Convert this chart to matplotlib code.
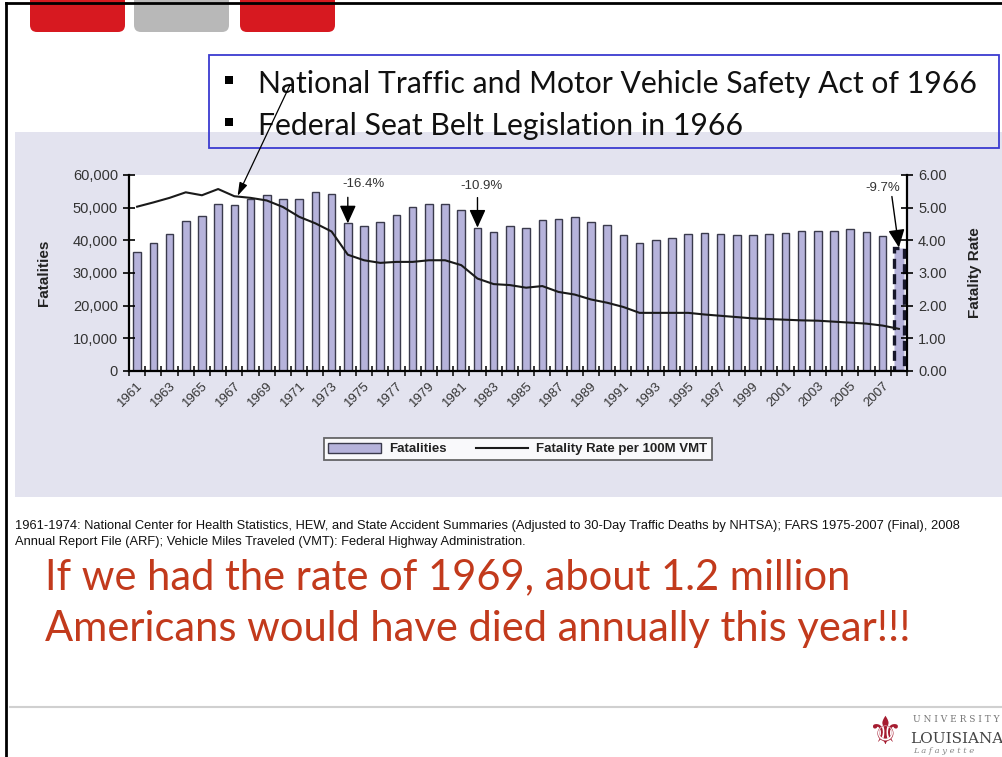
import matplotlib.pyplot as plt
import numpy as np
from matplotlib.patches import Rectangle, FancyBboxPatch
from matplotlib.ticker import FuncFormatter

# data
years = list(range(1961, 2009))
fatalities = [36300, 39200, 42000, 45800, 47300, 51000, 50800, 52700, 53800, 52800,
              52700, 54700, 54300, 45200, 44500, 45500, 47900, 50300, 51100, 51100,
              49300, 43900, 42600, 44300, 43800, 46100, 46400, 47100, 45600, 44600,
              41500, 39300, 40200, 40700, 41800, 42100, 42000, 41500, 41700, 41900,
              42200, 43000, 42900, 42800, 43500, 42700, 41300, 37800]
rate = [5.03, 5.16, 5.30, 5.47, 5.38, 5.57, 5.35, 5.30, 5.22, 5.02,
        4.72, 4.52, 4.27, 3.56, 3.39, 3.31, 3.34, 3.34, 3.39, 3.39,
        3.24, 2.83, 2.66, 2.63, 2.55, 2.60, 2.42, 2.34, 2.19, 2.09,
        1.96, 1.78, 1.78, 1.78, 1.78, 1.73, 1.69, 1.65, 1.61, 1.59,
        1.57, 1.55, 1.54, 1.51, 1.48, 1.45, 1.39, 1.29]
label_years = [str(y) for y in years[::2]]
note_years = [1974, 1982, 2008]
note_text = ['-16.4%', '-10.9%', '-9.7%']

title_lines = ['National Traffic and Motor Vehicle Safety Act of 1966',
               'Federal Seat Belt Legislation in 1966']
source_lines = ['1961-1974: National Center for Health Statistics, HEW, and State Accident Summaries '
                '(Adjusted to 30-Day Traffic Deaths by NHTSA); FARS 1975-2007 (Final), 2008',
                'Annual Report File (ARF); Vehicle Miles Traveled (VMT): Federal Highway Administration.']
message_lines = ['If we had the rate of 1969, about 1.2 million',
                 'Americans would have died annually this year!!!']

W, H = 1003, 757
narrow = ['Liberation Sans Narrow', 'Liberation Sans', 'DejaVu Sans']
plain = ['Liberation Sans', 'DejaVu Sans']

fig = plt.figure(figsize=(W / 100, H / 100), dpi=100)
renderer = fig.canvas.get_renderer()


def fit(t, width):
    # scale a text so it spans the given width in pixels
    w = t.get_window_extent(renderer).width
    t.set_fontsize(t.get_fontsize() * width / w)


# background layer in pixel coordinates
back = fig.add_axes([0, 0, 1, 1], zorder=-2)
back.set_xlim(0, W)
back.set_ylim(H, 0)
back.axis('off')
back.add_patch(Rectangle((15, 132), W - 15, 365, facecolor='#E3E3EF', edgecolor='none'))
for x0, c in [(30, '#D71920'), (134, '#B8B8B8'), (240, '#D71920')]:
    back.add_patch(FancyBboxPatch((x0, -20), 95, 52, boxstyle='round,pad=0,rounding_size=7',
                                  facecolor=c, edgecolor='none'))
back.plot([6, 6], [3, H], color='black', lw=2)
back.plot([6, W], [3, 3], color='black', lw=2)
back.plot([10, W], [707, 707], color='#D0D0D0', lw=1.5)

# chart
x = np.arange(len(years))
ax = fig.add_axes([129 / W, 1 - 371 / H, 778 / W, 196 / H])
ax.set_facecolor('white')
bars = ax.bar(x[:-1], fatalities[:-1], width=0.47, color='#B6B3DB', edgecolor='#3a3a4c', linewidth=1.0)
ax.bar(x[-1], fatalities[-1], width=0.62, color='#B6B3DB', edgecolor='#16162a',
       linewidth=2.4, linestyle=(0, (3, 1.6)))
ax.set_xlim(-0.5, len(years) - 0.5)
ax.set_ylim(0, 60000)
ax.set_yticks(range(0, 60001, 10000))
ax.yaxis.set_major_formatter(FuncFormatter(lambda v, p: f'{int(v):,}'))
ax.set_xticks(np.arange(-0.5, len(years), 1))
ax.set_xticklabels([])
ax.set_xticks(x[::2], minor=True)
ax.set_xticklabels(label_years, minor=True, rotation=45, ha='right', rotation_mode='anchor',
                   family=plain, fontsize=9.5, color='#333333')
ax.tick_params(axis='x', which='major', direction='inout', length=7, width=1.1)
ax.tick_params(axis='x', which='minor', length=0, pad=6)
ax.tick_params(axis='y', direction='inout', length=9, width=1.2, labelsize=10.5, labelcolor='#333333')
for lab in ax.get_yticklabels():
    lab.set_family(plain)
for s in ['top', 'right']:
    ax.spines[s].set_visible(False)
for s in ['left', 'bottom']:
    ax.spines[s].set_linewidth(1.6)
ax.set_ylabel('Fatalities', family=narrow, weight='bold', fontsize=11, color='#222222')
ax.yaxis.set_label_coords(-0.1, 0.5)

ax2 = ax.twinx()
line, = ax2.plot(x, rate, color='#1a1a1a', lw=1.5)
ax2.set_ylim(0, 6)
ax2.set_yticks(np.arange(0, 6.01, 1))
ax2.yaxis.set_major_formatter(FuncFormatter(lambda v, p: f'{v:.2f}'))
ax2.tick_params(axis='y', direction='inout', length=9, width=1.2, labelsize=10.5, labelcolor='#333333')
for lab in ax2.get_yticklabels():
    lab.set_family(plain)
for s in ['top', 'left', 'bottom']:
    ax2.spines[s].set_visible(False)
ax2.spines['right'].set_linewidth(1.6)
ax2.set_ylabel('Fatality Rate', family=narrow, weight='bold', fontsize=11, color='#222222')
ax2.yaxis.set_label_coords(1.078, 0.5)

# percentage change markers
arrow_offsets = [(0, 26), (0, 30), (-7, 51)]
text_offsets = [(16, 39), (4, 42), (-16, 60)]
for yr, txt, ao, to in zip(note_years, note_text, arrow_offsets, text_offsets):
    i = years.index(yr)
    ax.annotate('', xy=(i, fatalities[i]), xytext=ao, textcoords='offset pixels',
                arrowprops=dict(arrowstyle='-|>,head_length=1.1,head_width=0.5', color='black',
                                lw=1.0, shrinkA=0, shrinkB=0, mutation_scale=10))
    ax.annotate(txt, xy=(i, fatalities[i]), xytext=to, textcoords='offset pixels',
                ha='center', va='center', family=plain, fontsize=9.5, color='#333333')

leg = fig.legend(handles=[bars, line], labels=['Fatalities', 'Fatality Rate per 100M VMT'],
                 loc='center', bbox_to_anchor=(518 / W, 1 - 449 / H), ncol=2, frameon=True,
                 fancybox=False, edgecolor='#444444', handlelength=4.0, handleheight=0.8,
                 columnspacing=2.2, borderpad=0.35, handletextpad=0.6,
                 prop=dict(family=narrow, weight='bold', size=9.5))
leg.get_frame().set_linewidth(1.3)
for t in leg.get_texts():
    t.set_color('#222222')

# foreground layer: title box, notes, message, logo
front = fig.add_axes([0, 0, 1, 1], zorder=5)
front.set_xlim(0, W)
front.set_ylim(H, 0)
front.axis('off')
front.add_patch(Rectangle((209, 55), 790, 93, fill=False, edgecolor='#3B3BD0', lw=1.3))
for yb in [80, 122]:
    front.add_patch(Rectangle((225, yb - 4), 8, 8, facecolor='black', edgecolor='none'))
t1 = front.text(258, 93, title_lines[0], family='Lato', fontsize=20, va='baseline', color='#111111')
fit(t1, 718)
front.text(258, 135, title_lines[1], family='Lato', fontsize=t1.get_fontsize(), va='baseline',
           color='#111111')
front.annotate('', xy=(6.2, 5.36), xycoords=ax2.transData, xytext=(290, 85), textcoords='data',
               arrowprops=dict(arrowstyle='-|>,head_length=0.8,head_width=0.25', color='black',
                               lw=0.9, shrinkA=0, shrinkB=0, mutation_scale=10))

s1 = front.text(15, 526, source_lines[0], family=narrow, fontsize=8, va='center', color='#111111')
fit(s1, 952)
front.text(15, 542, source_lines[1], family=narrow, fontsize=s1.get_fontsize(), va='center',
           color='#111111')

m1 = front.text(45, 589, message_lines[0], family='Lato', fontsize=24, va='baseline', color='#C23A1C')
fit(m1, 807)
front.text(45, 641, message_lines[1], family='Lato', fontsize=m1.get_fontsize(), va='baseline',
           color='#C23A1C')

# university logo
front.text(884, 733, '\u269C', family='DejaVu Sans', fontsize=28, ha='center', va='center',
           color='#A51C30')
front.text(913, 719, 'U N I V E R S I T Y', family='DejaVu Serif', fontsize=6.5, va='center',
           color='#777777')
front.text(910, 739, 'LOUISIANA', family='DejaVu Serif', fontsize=11, va='center', color='#444444')
front.text(913, 751, 'L a f a y e t t e', family='DejaVu Serif', fontsize=6, style='italic',
           va='center', color='#888888')

fig.savefig('out.png', dpi=100)
